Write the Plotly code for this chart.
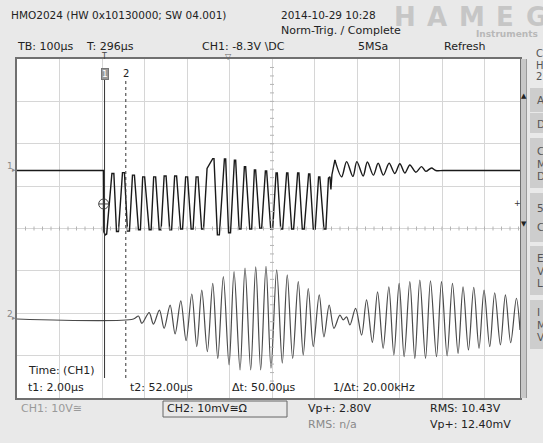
import plotly.graph_objects as go

# ---------------- data ----------------
# CH1: time in µs, voltage in V (10 V/div)
ch1_t = [-204.0, -0.5, 0.3, 3.5, 7.0,
         19.3, 23.9, 30.1, 34.7, 44.2, 48.8, 56.0, 60.6, 67.7, 72.3, 81.8, 86.4, 91.7, 96.3,
         107.0, 111.6, 117.6, 122.2, 130.5, 135.1, 142.2, 146.8, 155.2, 159.8, 166.9, 171.5,
         181.0, 185.6, 192.8, 197.4, 205.7, 210.3, 217.4, 222.0, 230.4, 235.0, 243.2,
         256.5, 259.5, 267.5, 272.1, 284.0, 287.0, 293.8, 298.4, 307.5, 310.5, 318.5, 323.1,
         331.0, 334.0, 343.6, 348.2, 354.5, 357.5, 367.1, 371.7, 380.4, 383.4, 393.0, 397.6,
         405.5, 408.5, 416.5, 421.1, 430.4, 433.4, 442.3, 446.9, 456.3, 459.3, 467.2, 471.8,
         482.1, 485.1, 493.1, 497.7, 505.6, 508.6, 518.2, 522.8,
         528.8, 532.3, 534.6, 537.0, 544.0,
         559.8, 571.5, 586.3, 595.7, 610.5, 620.4, 634.5, 645.8, 658.0, 671.6, 685.0, 696.8,
         708.5, 720.3, 734.4, 747.8, 757.9, 771.3, 781.4, 800.0, 979.5]
ch1_v = [0, 0, -14.5, -15.2, -15.0,
         -0.7, -0.7, -14.4, -14.4, -0.5, -0.5, -14.3, -14.3, -1.1, -1.1, -14.0, -14.0, -1.5, -1.5,
         -14.0, -14.0, -1.5, -1.5, -14.0, -14.0, -1.3, -1.3, -14.0, -14.0, -1.3, -1.3,
         -13.8, -13.8, -1.5, -1.5, -13.8, -13.8, -1.5, -1.5, -13.8, -13.8, 0.5,
         2.8, 2.8, -15.2, -15.2, 2.7, 2.7, -14.7, -14.7, 2.4, 2.4, -13.8, -13.8,
         0.9, 0.9, -13.8, -13.8, 0.1, 0.1, -13.6, -13.6, -0.1, -0.1, -13.8, -13.8,
         -0.6, -0.6, -13.8, -13.8, -0.6, -0.6, -13.8, -13.8, -0.6, -0.6, -13.8, -13.8,
         -0.8, -0.8, -13.8, -13.8, -1.5, -1.5, -13.8, -13.8,
         -1.8, -1.5, -4.5, -1.0, 2.5,
         -1.5, 2.1, -1.4, 2.1, -1.3, 2.0, -1.1, 1.7, -1.1, 1.7, -0.7, 1.6,
         -0.6, 1.3, -0.4, 0.9, -0.2, 0.6, 0.0, 0.0, 0.0]
ch1_ring_start = 90   # index where the pulse burst ends and the ringing begins

# CH2: time in µs, voltage in mV (10 mV/div)
ch2_t = [-204.0, 70.0, 81.8, 89.8, 106.9, 117.0, 131.1, 142.2, 156.3, 168.0,
         181.4, 193.9, 207.3, 219.0, 230.8, 243.9, 256.6, 268.4, 281.5, 294.9,
         306.7, 320.8, 332.5, 345.9, 357.7, 369.4, 381.9, 393.6, 407.0, 420.2,
         431.9, 444.6, 457.8, 469.5, 481.3, 493.0, 507.1, 518.2, 530.6, 541.7,
         555.8, 563.5, 571.5, 579.3, 592.7, 606.8, 618.5, 632.2, 644.4, 657.5,
         670.9, 682.7, 695.1, 706.9, 720.3, 732.0, 743.8, 757.2, 768.9, 783.0,
         794.8, 808.0, 820.6, 833.8, 845.5, 858.2, 870.7, 883.1, 894.9, 908.3,
         920.0, 933.4, 945.2, 957.6, 971.0, 979.5]
ch2_mv = [0, 0, 0.7, -1.0, 1.5, -1.2, 2.1, -2.2, 3.3, -3.5,
          4.3, -5.1, 5.9, -6.5, 6.8, -7.7, 8.4, -9.3, 10.0, -10.8,
          11.2, -12.0, 12.0, -12.0, 12.3, -12.0, 12.4, -11.6, 11.6, -10.4,
          10.4, -9.3, 8.8, -8.5, 7.2, -6.5, 5.7, -4.2, 3.3, -2.2,
          0.9, -0.2, 0.5, -1.4, 2.5, -3.8, 4.5, -5.5, 6.4, -6.9,
          7.6, -8.5, 8.4, -8.9, 8.8, -9.3, 9.2, -9.3, 9.0, -8.9,
          8.8, -8.7, 8.4, -8.1, 7.6, -7.3, 7.5, -6.9, 6.8, -6.5,
          6.2, -6.1, 5.7, -5.6, 4.9, -2.6]

cursor_t = [2.0, 52.0]          # t1, t2 in µs
cursor_labels = ["1", "2"]
trigger_t = 0.0
trigger_v = -7.9

header_texts = ["HMO2024 (HW 0x10130000; SW 04.001)", "2014-10-29 10:28", "Norm-Trig. / Complete"]
status_texts = ["TB: 100µs", "T: 296µs", "CH1: -8.3V \\DC", "5MSa", "Refresh"]
cursor_texts = ["Time: (CH1)", "t1: 2.00µs", "t2: 52.00µs", "Δt: 50.00µs", "1/Δt: 20.00kHz"]
meas_texts = ["CH1: 10V≅", "CH2: 10mV≅Ω", "Vp+: 2.80V", "RMS: n/a", "RMS: 10.43V", "Vp+: 12.40mV"]
side_labels = [["A"], ["D"], ["C", "M", "D"], ["5", "C"], ["E", "V", "L"], ["I", "M", "V"]]

# ---------------- layout geometry ----------------
W, H = 543, 443
ML, MR, MT, MB = 17, 23, 59, 45
PW, PH = W - ML - MR, H - MT - MB
FONT = "DejaVu Sans"

T_RANGE = [-204.0, 979.5]
V1_RANGE = [-53.69, 26.31]
V2_RANGE = [-18.64, 61.36]


def fx(px):
    return (px - ML) / PW


def fy(py):
    return (H - MB - py) / PH


def txt(x, y, s, size=11, color="#222222", anchor="left"):
    return dict(xref="paper", yref="paper", x=fx(x), y=fy(y),
                text=s, showarrow=False, xanchor=anchor, yanchor="middle",
                font=dict(family=FONT, size=size, color=color))


fig = go.Figure()

r = ch1_ring_start
fig.add_trace(go.Scatter(x=ch1_t[:r + 1], y=ch1_v[:r + 1], mode="lines", yaxis="y",
                         line=dict(color="#1a1a1a", width=1.4),
                         showlegend=False, hoverinfo="skip"))
fig.add_trace(go.Scatter(x=ch1_t[r:], y=ch1_v[r:], mode="lines", yaxis="y",
                         line=dict(color="#1a1a1a", width=1.4, shape="spline", smoothing=0.9),
                         showlegend=False, hoverinfo="skip"))
fig.add_trace(go.Scatter(x=ch2_t, y=ch2_mv, mode="lines", yaxis="y2",
                         line=dict(color="#4a4a4a", width=1.2, shape="spline", smoothing=0.9),
                         showlegend=False, hoverinfo="skip"))
fig.add_trace(go.Scatter(x=[trigger_t], y=[trigger_v], mode="markers", yaxis="y",
                         marker=dict(symbol="circle-cross-open", size=10,
                                     line=dict(color="#444444", width=1), color="#444444"),
                         showlegend=False, hoverinfo="skip"))

shapes = []
# centre-line minor ticks
xc_t = T_RANGE[0] + 600
yc_v = V1_RANGE[1] - 40
dv = 2 / (PH / 8) * 10
dt = 2 / (PW / ((T_RANGE[1] - T_RANGE[0]) / 100)) * 100
k = 1
while T_RANGE[0] + 20 * k < T_RANGE[1]:
    t = T_RANGE[0] + 20 * k
    shapes.append(dict(type="line", xref="x", yref="y", x0=t, x1=t, y0=yc_v - dv, y1=yc_v + dv,
                       line=dict(color="#b4b4b4", width=1)))
    k += 1
for k in range(1, 40):
    v = V1_RANGE[1] - 2 * k
    shapes.append(dict(type="line", xref="x", yref="y", x0=xc_t - dt, x1=xc_t + dt, y0=v, y1=v,
                       line=dict(color="#b4b4b4", width=1)))

# cursors
shapes.append(dict(type="line", xref="x", yref="paper", x0=cursor_t[0], x1=cursor_t[0],
                   y0=fy(378), y1=fy(79), line=dict(color="#333333", width=1)))
shapes.append(dict(type="line", xref="x", yref="paper", x0=cursor_t[1], x1=cursor_t[1],
                   y0=fy(378), y1=fy(80), line=dict(color="#333333", width=1, dash="dot")))
# scrollbar
shapes.append(dict(type="rect", xref="paper", yref="paper", x0=fx(521), x1=fx(527), y0=fy(398), y1=fy(59),
                   fillcolor="#c8c8c8", line=dict(width=0)))
shapes.append(dict(type="line", xref="paper", yref="paper", x0=fx(526.5), x1=fx(526.5), y0=fy(398), y1=fy(59),
                   line=dict(color="#9a9a9a", width=1)))
# side buttons
for (y0, y1) in [(88, 112), (113, 133), (138, 188), (193, 242), (246, 295), (300, 349)]:
    shapes.append(dict(type="rect", xref="paper", yref="paper", x0=fx(530), x1=fx(546), y0=fy(y1), y1=fy(y0),
                       fillcolor="#cdcdcd", line=dict(width=0)))
# CH2 status box
shapes.append(dict(type="rect", xref="paper", yref="paper", x0=fx(163), x1=fx(287), y0=fy(417), y1=fy(401),
                   line=dict(color="#666666", width=1), fillcolor="rgba(0,0,0,0)"))

ann = []
# logo (drawn first so header text sits on top)
for ch, cx in zip("HAMEG", [405, 437, 472, 505, 536]):
    ann.append(txt(cx, 17, "<b>" + ch + "</b>", 26, "#c6c6c6", "center"))
ann.append(txt(540, 34, "<b>Instruments</b>", 9, "#b8b8b8", "right"))
# header
ann.append(txt(9, 15, header_texts[0], 10.5))
ann.append(txt(279, 15, header_texts[1], 10.5))
ann.append(txt(279, 31, header_texts[2], 11))
# status row
for s, x in zip(status_texts, [15, 84, 200, 356, 442]):
    ann.append(txt(x, 47, s, 11))
ann.append(txt(103.5, 57, "T", 8, "#444444", "center"))
ann.append(txt(228, 57, "▽", 8, "#666666", "center"))
# channel ground markers
ann.append(txt(10, 166, "1", 9, "#8a8a8a", "center"))
ann.append(txt(14, 170, "▸", 7, "#8a8a8a", "center"))
ann.append(txt(10, 314, "2", 9, "#8a8a8a", "center"))
ann.append(txt(14, 318, "▸", 7, "#8a8a8a", "center"))
# cursor labels
ann.append(dict(xref="x", yref="paper", x=cursor_t[0], y=fy(73.5), text=cursor_labels[0], showarrow=False,
                xanchor="center", yanchor="middle", bgcolor="#9a9a9a", bordercolor="#777777", borderpad=0,
                font=dict(family=FONT, size=9, color="#ffffff")))
ann.append(dict(xref="x", yref="paper", x=cursor_t[1], y=fy(73), text=cursor_labels[1], showarrow=False,
                xanchor="center", yanchor="middle", font=dict(family=FONT, size=10, color="#222222")))
# cursor readouts
ann.append(txt(26, 370, cursor_texts[0], 11))
for s, x in zip(cursor_texts[1:], [26, 128, 230, 331]):
    ann.append(txt(x, 387, s, 11))
# measurements
ann.append(txt(19, 408, meas_texts[0], 11, "#9a9a9a"))
ann.append(txt(165, 409, meas_texts[1], 11))
ann.append(txt(306, 408, meas_texts[2], 11))
ann.append(txt(306, 425, meas_texts[3], 11, "#8a8a8a"))
ann.append(txt(428, 408, meas_texts[4], 11))
ann.append(txt(428, 425, meas_texts[5], 11))
# scrollbar arrows, trigger level marker
ann.append(txt(524, 96, "▲", 7, "#222222", "center"))
ann.append(txt(524, 224, "▼", 7, "#222222", "center"))
ann.append(txt(517, 203, "+", 8, "#333333", "center"))
# side panel letters
for letter, y in zip(["C", "H", "2"], [54, 65.5, 77]):
    ann.append(txt(534, y, letter, 10, "#555555"))
for letters, y0 in zip(side_labels, [100, 124, 151, 208, 258, 312]):
    step = 19 if len(letters) == 2 else 12.5
    for i, letter in enumerate(letters):
        ann.append(txt(535, y0 + i * step, letter, 10.5, "#555555"))

fig.update_layout(
    width=W, height=H,
    margin=dict(l=ML, r=MR, t=MT, b=MB, pad=0),
    paper_bgcolor="#e9e9e9", plot_bgcolor="#ffffff",
    showlegend=False,
    xaxis=dict(range=T_RANGE, tickmode="linear", tick0=T_RANGE[0], dtick=100,
               showgrid=True, gridcolor="#d6d6d6", gridwidth=1, zeroline=False,
               showticklabels=False, ticks="", showline=True, mirror=True,
               linecolor="#707070", linewidth=1.5, fixedrange=True),
    yaxis=dict(range=V1_RANGE, tickmode="linear", tick0=V1_RANGE[1], dtick=10,
               showgrid=True, gridcolor="#d6d6d6", gridwidth=1, zeroline=False,
               showticklabels=False, ticks="", showline=True, mirror=True,
               linecolor="#707070", linewidth=1.5, fixedrange=True),
    yaxis2=dict(range=V2_RANGE, overlaying="y", visible=False, fixedrange=True),
    shapes=shapes,
    annotations=ann,
)

fig.write_html("out.html")
